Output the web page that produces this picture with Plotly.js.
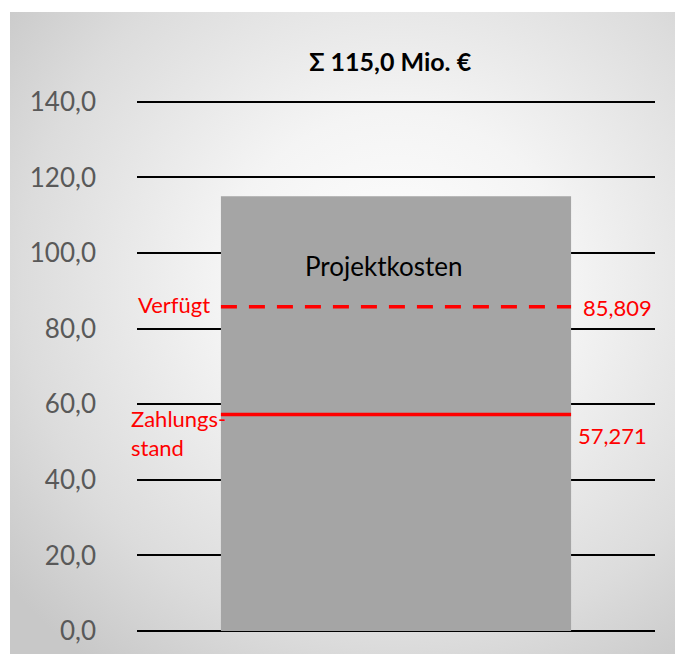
<!DOCTYPE html>
<html><head><meta charset="utf-8">
<script src="https://cdn.plot.ly/plotly-3.0.1.min.js"></script>
<style>
html,body{margin:0;padding:0;background:#fff;}
#bg{position:absolute;left:10px;top:12px;width:665px;height:642px;
background:radial-gradient(ellipse 75% 75% at 58% 42%, #ffffff 0%, #f4f4f4 35%, #dcdcdc 75%, #c8c8c8 100%);}
#chart{position:absolute;left:0;top:0;width:675px;height:654px;}
</style></head>
<body>
<div id="bg"></div>
<div id="chart"></div>
<script>
const categories = ["Projektkosten"];
const totalCost = [115.0];
const verfuegt = 85.809;
const zahlungsstand = 57.271;
const tickVals = [0, 20, 40, 60, 80, 100, 120, 140];
const tickLabels = ["0,0", "20,0", "40,0", "60,0", "80,0", "100,0", "120,0", "140,0"];

const fmt = v => v.toFixed(3).replace('.', ',');
const half = 0.338;

const traces = [
  {type:'bar', x:[0], y:totalCost, width:[2*half], marker:{color:'#a5a5a5'},
   hoverinfo:'skip', showlegend:false},
  {type:'scatter', mode:'lines', x:[-half, half], y:[verfuegt, verfuegt],
   line:{color:'#ff0000', width:3.5, dash:'16px,12px'}, showlegend:false, hoverinfo:'skip'},
  {type:'scatter', mode:'lines', x:[-half, half], y:[zahlungsstand, zahlungsstand],
   line:{color:'#ff0000', width:3.5}, showlegend:false, hoverinfo:'skip'}
];

const FF = 'Lato, "Open Sans", sans-serif';
const red = {family:FF, size:22, color:'#ff0000'};
const layout = {
  width:675, height:654,
  margin:{l:137, r:20, t:100, b:23},
  paper_bgcolor:'rgba(0,0,0,0)', plot_bgcolor:'rgba(0,0,0,0)',
  separators:',.',
  title:{text:'<b>Σ ' + totalCost[0].toFixed(1).replace('.', ',') + ' Mio. €</b>',
         x:0.578, xanchor:'center', y:0.905, yanchor:'middle',
         font:{family:FF, size:25, color:'#000'}},
  xaxis:{range:[-0.5, 0.5], showticklabels:false, showgrid:false, zeroline:false,
         showline:false, ticks:'', fixedrange:true},
  yaxis:{range:[0, 140.5], tickvals:tickVals, ticktext:tickLabels,
         showgrid:true, gridcolor:'#000', gridwidth:2, zeroline:true, zerolinecolor:'#000',
         zerolinewidth:2, showline:false, ticks:'', ticklabelstandoff:40,
         tickfont:{family:FF, size:26, color:'#595959'}},
  annotations:[
    {x:0, y:totalCost[0]*0.84, xref:'x', yref:'y', text:categories[0], showarrow:false,
     xshift:-12, font:{family:FF, size:26, color:'#000'}},
    {x:-half, y:verfuegt, xref:'x', yref:'y', text:'Verfügt', showarrow:false,
     xanchor:'center', xshift:-47, yshift:2, font:red},
    {x:half, y:verfuegt, xref:'x', yref:'y', text:fmt(verfuegt), showarrow:false,
     xanchor:'center', xshift:46, yshift:-1, font:red},
    {x:-half, y:zahlungsstand, xref:'x', yref:'y', text:'Zahlungs-<br>stand', showarrow:false,
     xanchor:'left', xshift:-92, yshift:-18, align:'left', font:red},
    {x:half, y:zahlungsstand, xref:'x', yref:'y', text:fmt(zahlungsstand), showarrow:false,
     xanchor:'center', xshift:41, yshift:-21, font:red}
  ]
};
Plotly.newPlot('chart', traces, layout, {displayModeBar:false, staticPlot:true});
</script>
</body></html>
